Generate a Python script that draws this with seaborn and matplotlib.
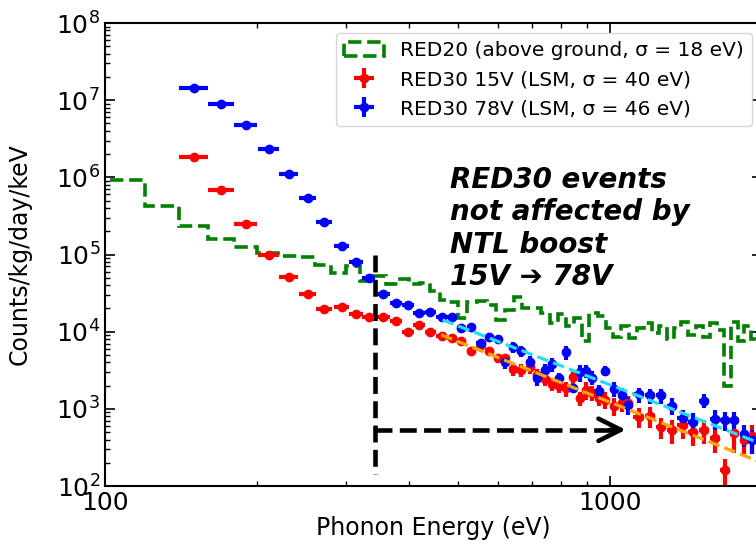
import numpy as np
import seaborn as sns
import matplotlib.pyplot as plt
from matplotlib.ticker import ScalarFormatter, NullFormatter

# RED30 bin centres (eV) and half widths, shared by the 15V and 78V runs
energy = [150, 170, 190, 211, 231, 252, 272, 294, 314, 333,
          356, 377, 398, 419, 441, 464, 486, 508, 531, 555,
          577, 599, 621, 643, 667, 693, 718, 743, 768, 793,
          818, 843, 872, 896, 923, 950, 978, 1017, 1055, 1086,
          1141, 1199, 1260, 1326, 1392, 1457, 1536, 1615, 1686, 1762,
          1845, 1911]
half_width = [10, 10, 10, 10, 10, 10, 10, 10, 10, 10,
              10, 10, 11, 11, 11, 11, 11, 11, 11, 11,
              11, 11, 12, 12, 12, 12, 12, 12, 12, 12,
              13, 13, 13, 13, 13, 13, 13, 18, 18, 18,
              28, 28, 28, 28, 33, 33, 33, 37, 37, 37,
              37, 37]

# RED30 15V (LSM)
rate_15v = [1.84e6, 6.8e5, 2.49e5, 9.9e4, 5.1e4, 3.06e4, 1.99e4, 2.11e4, 1.70e4, 1.54e4,
            1.54e4, 1.39e4, 9.9e3, 1.22e4, 9.9e3, 8.7e3, 8.2e3, 7.5e3, 5.7e3, 6.75e3,
            5.7e3, 4.5e3, 4.5e3, 3.27e3, 3.2e3, 3.47e3, 2.75e3, 2.45e3, 2.11e3, 1.99e3,
            1.85e3, 2.58e3, 1.38e3, 1.76e3, 1.60e3, 1.38e3, 1.31e3, 1.09e3, 1.2e3, 1.19e3,
            795, 811, 579, 535, 621, 504, 535, 417, 162, 493,
            396, 438]
relerr_15v = [0.03] * 14 + [0.08, 0.08, 0.09, 0.1, 0.1, 0.1, 0.12, 0.12,
              0.15, 0.18, 0.18, 0.18, 0.2, 0.2, 0.2, 0.2, 0.22, 0.22, 0.2, 0.25, 0.22, 0.22, 0.25,
              0.25, 0.25, 0.25, 0.3, 0.3, 0.3, 0.35, 0.35, 0.35, 0.35, 0.35, 0.4, 0.45, 0.35, 0.4]

# RED30 78V (LSM)
rate_78v = [1.43e7, 8.9e6, 4.8e6, 2.33e6, 1.10e6, 5.4e5, 2.67e5, 1.29e5, 7.9e4, 4.9e4,
            3.1e4, 2.38e4, 2.22e4, 1.74e4, 1.82e4, 1.54e4, 1.54e4, 1.11e4, 1.14e4, 7.1e3,
            8.65e3, 8.0e3, 4.1e3, 6.3e3, 5.6e3, 4.1e3, 2.5e3, 3.15e3, 3.8e3, 2.5e3,
            5.4e3, 1.87e3, 2.97e3, 3.1e3, 2.54e3, 1.69e3, 3.1e3, 1.82e3, 1.52e3, 1.13e3,
            1.54e3, 1.50e3, 1.50e3, 1.10e3, 760, 684, 1.28e3, 748, 721, 710,
            474, 396]
relerr_78v = [0.02] * 14 + [0.07, 0.07, 0.08, 0.09, 0.09, 0.1, 0.1, 0.1,
              0.2, 0.15, 0.16, 0.18, 0.2, 0.22, 0.2, 0.18, 0.2, 0.12, 0.25, 0.2, 0.2, 0.22, 0.15,
              0.22, 0.24, 0.26, 0.22, 0.22, 0.22, 0.24, 0.28, 0.28, 0.2, 0.28, 0.28, 0.28, 0.32, 0.35]

# RED20 above ground, step histogram
red20_edges = [80, 100, 120, 140, 160, 180, 200, 220, 240, 260, 280, 300, 320, 340, 360, 380,
               400, 420, 440, 460, 480, 500, 520, 545, 570, 595, 620, 645, 670, 700, 730,
               760, 790, 820, 850, 880, 910, 945, 980, 1015, 1050, 1090, 1130, 1170, 1210,
               1250, 1295, 1340, 1385, 1430, 1480, 1530, 1580, 1630, 1680, 1735, 1790, 1845,
               1900, 1960, 2020]
red20_rate = [9.3e5, 9.3e5, 4.3e5, 2.35e5, 1.58e5, 1.26e5, 1.04e5, 9.6e4, 9.4e4, 7.3e4, 5.8e4,
              7.0e4, 4.6e4, 5.2e4, 4.2e4, 4.8e4, 4.2e4, 4.3e4, 3.4e4, 2.6e4, 2.4e4,
              1.5e4, 2.4e4, 2.5e4, 2.2e4, 1.4e4, 1.9e4, 2.85e4, 2.0e4, 2.0e4, 1.75e4,
              1.3e4, 1.7e4, 1.2e4, 1.5e4, 7.5e3, 1.75e4, 1.6e4, 1.1e4, 8.5e3, 1.2e4,
              8.3e3, 1.1e4, 1.3e4, 9.5e3, 1.2e4, 8.0e3, 1.1e4, 1.35e4, 9.0e3, 1.2e4,
              8.5e3, 1.3e4, 1.05e4, 2.0e3, 1.35e4, 7.5e3, 1.2e4, 8.0e3, 1.3e4]

# power-law fits
fit_15v_energy = [463, 1000, 2000]
fit_15v_rate = [9.1e3, 1.22e3, 2.0e2]
fit_78v_energy = [466, 1000, 2000]
fit_78v_rate = [1.42e4, 2.05e3, 3.5e2]

# NTL boost annotation
ntl_cut = 342
ntl_top, ntl_bottom = 9.9e4, 1.44e2
arrow_level = 535
arrow_tip = 1075

sns.set_style('ticks', {'axes.edgecolor': 'black', 'xtick.color': 'black',
                        'ytick.color': 'black', 'text.color': 'black',
                        'axes.labelcolor': 'black'})
plt.rcParams['font.family'] = ['DejaVu Sans']

fig = plt.figure(figsize=(7.56, 5.46), dpi=100)
ax = fig.add_axes([105 / 756, 60 / 546, 657 / 756, 463 / 546])
ax.set_xscale('log')
ax.set_yscale('log')

edges = np.array(red20_edges, dtype=float)
centres = (edges[:-1] + edges[1:]) / 2
ax.hist(centres, bins=edges, weights=red20_rate, histtype='step', ls='--', lw=2.6,
        color='green', label='RED20 (above ground, σ = 18 eV)')

ax.errorbar(energy, rate_15v, xerr=half_width,
            yerr=np.array(rate_15v) * np.array(relerr_15v),
            fmt='o', color='red', ms=6, elinewidth=3, capsize=0,
            label='RED30 15V (LSM, σ = 40 eV)')
ax.errorbar(energy, rate_78v, xerr=half_width,
            yerr=np.array(rate_78v) * np.array(relerr_78v),
            fmt='o', color='blue', ms=6, elinewidth=3, capsize=0,
            label='RED30 78V (LSM, σ = 46 eV)')

sns.lineplot(x=fit_15v_energy, y=fit_15v_rate, ax=ax, color='orange', lw=2.3,
             linestyle='--', zorder=5)
sns.lineplot(x=fit_78v_energy, y=fit_78v_rate, ax=ax, color='#22ddff', lw=2.3,
             linestyle='--', zorder=5)

# L-shaped dashed arrow
ax.plot([ntl_cut, ntl_cut], [ntl_top, ntl_bottom], color='k', ls='--', lw=3.3)
ax.plot([ntl_cut, arrow_tip * 0.95], [arrow_level, arrow_level], color='k', ls='--', lw=3.3)
ax.annotate('', xy=(arrow_tip, arrow_level), xytext=(arrow_tip * 0.93, arrow_level),
            arrowprops=dict(arrowstyle='->', lw=3.3, color='k', mutation_scale=40,
                            shrinkA=0, shrinkB=0))

# multi-line text: baseline of the last line sits at the anchor
ax.text(0.525, 0.434, 'RED30 events\nnot affected by\nNTL boost\n15V ➔ 78V',
        transform=ax.transAxes, fontsize=20, fontweight='bold', fontstyle='italic',
        va='baseline', ha='left', linespacing=1.2)

ax.set_xlim(100, 2000)
ax.set_ylim(1e2, 1e8)
ax.xaxis.set_major_formatter(ScalarFormatter())
ax.xaxis.set_minor_formatter(NullFormatter())
ax.tick_params(which='both', direction='in', top=True, right=True, labelsize=18)
ax.tick_params(which='major', length=7, width=1.2)
ax.tick_params(which='minor', length=3.5, width=1)
for s in ax.spines.values():
    s.set_linewidth(1.5)

ax.set_xlabel('Phonon Energy (eV)', fontsize=17)
ax.xaxis.set_label_coords(0.5, -0.065)
ax.set_ylabel('Counts/kg/day/keV', fontsize=17)
ax.yaxis.set_label_coords(-0.111, 0.5)

ax.legend(loc='upper right', fontsize=14.5)

fig.savefig('out.png', dpi=100)
